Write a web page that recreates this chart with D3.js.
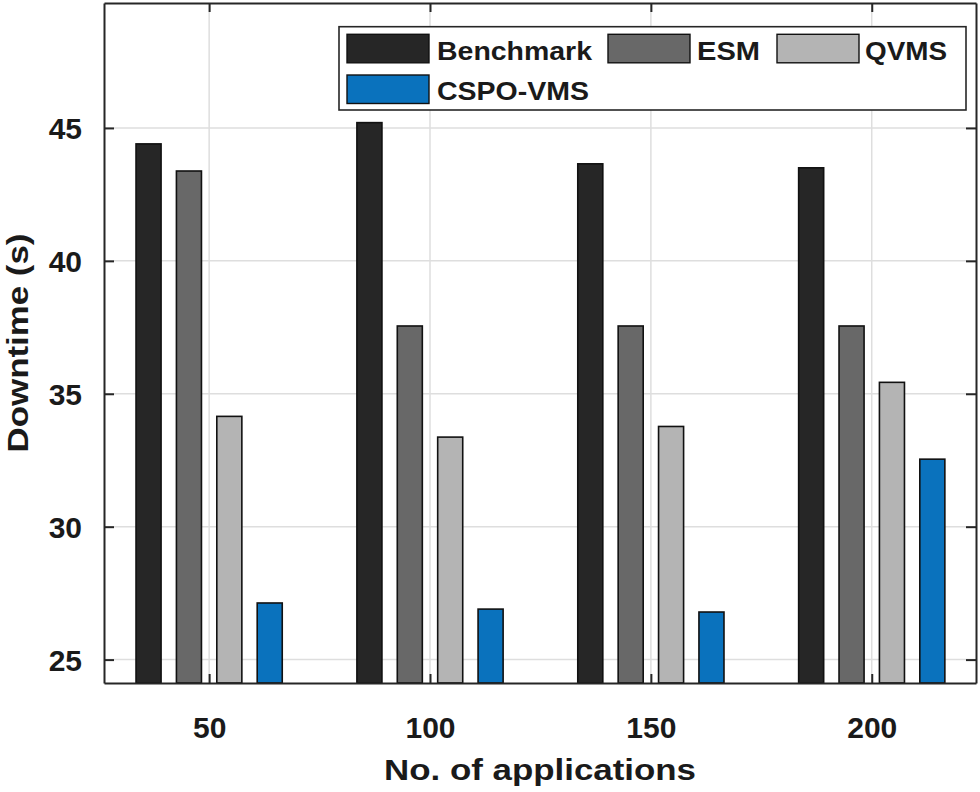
<!DOCTYPE html>
<html>
<head>
<meta charset="utf-8">
<script src="https://cdn.jsdelivr.net/npm/d3@7"></script>
<style>
  body { margin: 0; background: #fff; }
  text { font-family: "Liberation Sans", Arial, sans-serif; font-weight: bold; fill: #1a1a1a; }
</style>
</head>
<body>
<div id="chart"></div>
<script>
// data
var apps = [50, 100, 150, 200];
var seriesNames = ["Benchmark", "ESM", "QVMS", "CSPO-VMS"];
var benchmark = [44.4, 45.2, 43.65, 43.5];
var esm = [43.38, 37.55, 37.55, 37.55];
var qvms = [34.15, 33.37, 33.77, 35.43];
var cspo = [27.13, 26.9, 26.79, 32.54];
var yTicks = [25, 30, 35, 40, 45];

var colors = ["#262626", "#686868", "#b4b4b4", "#0a72bd"];
var values = [benchmark, esm, qvms, cspo];

// dimensions
var margin = { top: 3, right: 4, bottom: 109, left: 104 },
  width = 980 - margin.left - margin.right,
  height = 792 - margin.top - margin.bottom;

var svg = d3.select("#chart")
  .append("svg")
  .attr("width", 980)
  .attr("height", 792)
  .append("g")
  .attr("transform", "translate(" + margin.left + "," + margin.top + ")");

var x = d3.scaleLinear().domain([26.2, 223.6]).range([0, width]);
var y = d3.scaleLinear().domain([24.12, 49.7]).range([height, 0]);

var step = x(100) - x(50);
var groupW = step * 0.662;
var xSub = d3.scaleBand()
  .domain(seriesNames)
  .range([-groupW / 2, groupW / 2])
  .paddingInner(0.38);

// grid lines
svg.append("g")
  .selectAll("line")
  .data(yTicks)
  .enter()
  .append("line")
  .attr("x1", 0).attr("x2", width)
  .attr("y1", function (d) { return y(d); })
  .attr("y2", function (d) { return y(d); })
  .attr("stroke", "#dedede").attr("stroke-width", 1.5);

svg.append("g")
  .selectAll("line")
  .data(apps)
  .enter()
  .append("line")
  .attr("y1", 0).attr("y2", height)
  .attr("x1", function (d) { return x(d); })
  .attr("x2", function (d) { return x(d); })
  .attr("stroke", "#dedede").attr("stroke-width", 1.5);

// bars
var rows = [];
apps.forEach(function (a, i) {
  seriesNames.forEach(function (s, j) {
    rows.push({ app: a, series: s, value: values[j][i], color: colors[j] });
  });
});

svg.append("g")
  .selectAll("rect")
  .data(rows)
  .enter()
  .append("rect")
  .attr("x", function (d) { return x(d.app) + xSub(d.series); })
  .attr("width", xSub.bandwidth())
  .attr("y", function (d) { return y(d.value); })
  .attr("height", function (d) { return height - y(d.value); })
  .attr("fill", function (d) { return d.color; })
  .attr("stroke", "#111")
  .attr("stroke-width", 1.6);

// axes (MATLAB box style, ticks inside)
var axL = svg.append("g")
  .call(d3.axisLeft(y).tickValues(yTicks).tickSizeInner(-10).tickSizeOuter(0).tickPadding(22));
var axR = svg.append("g")
  .attr("transform", "translate(" + width + ",0)")
  .call(d3.axisRight(y).tickValues(yTicks).tickSizeInner(-10).tickSizeOuter(0).tickFormat(""));
var axB = svg.append("g")
  .attr("transform", "translate(0," + height + ")")
  .call(d3.axisBottom(x).tickValues(apps).tickSizeInner(-9).tickSizeOuter(0).tickPadding(34));
var axT = svg.append("g")
  .call(d3.axisTop(x).tickValues(apps).tickSizeInner(-9).tickSizeOuter(0).tickFormat(""));

[axL, axR, axB, axT].forEach(function (a) {
  a.select(".domain").attr("stroke", "#262626").attr("stroke-width", 2);
  a.selectAll(".tick line").attr("stroke", "#262626").attr("stroke-width", 2);
  a.selectAll(".tick text")
    .style("font-family", "'Liberation Sans', Arial, sans-serif")
    .style("font-weight", "bold")
    .style("font-size", "30px")
    .attr("fill", "#1a1a1a");
});
axL.selectAll(".tick text").attr("dy", "0.36em");

// axis labels
svg.append("text")
  .attr("text-anchor", "middle")
  .attr("x", width / 2)
  .attr("y", height + 97)
  .attr("textLength", 312)
  .attr("lengthAdjust", "spacingAndGlyphs")
  .style("font-size", "29.5px")
  .text("No. of applications");

svg.append("text")
  .attr("text-anchor", "middle")
  .attr("transform", "translate(" + (-76) + "," + (height / 2) + ") rotate(-90)")
  .attr("textLength", 219)
  .attr("lengthAdjust", "spacingAndGlyphs")
  .style("font-size", "30px")
  .text("Downtime (s)");

// legend
var legend = svg.append("g").attr("transform", "translate(" + (339 - margin.left) + "," + (26.7 - margin.top) + ")");
legend.append("rect")
  .attr("x", 0).attr("y", 0)
  .attr("width", 627).attr("height", 83.3)
  .attr("fill", "#fff")
  .attr("stroke", "#262626")
  .attr("stroke-width", 1.6);

var legPos = [
  { sx: 8, sy: 7.6, tx: 98, ty: 33.5, tw: 155 },
  { sx: 269, sy: 7.6, tx: 358, ty: 33.5, tw: 63 },
  { sx: 438, sy: 7.6, tx: 526, ty: 33.5, tw: 82 },
  { sx: 8, sy: 48.3, tx: 98, ty: 73.5, tw: 152 }
];

seriesNames.forEach(function (s, j) {
  var p = legPos[j];
  legend.append("rect")
    .attr("x", p.sx).attr("y", p.sy)
    .attr("width", 82).attr("height", 28.5)
    .attr("fill", colors[j])
    .attr("stroke", "#111")
    .attr("stroke-width", 1.4);
  legend.append("text")
    .attr("x", p.tx).attr("y", p.ty)
    .attr("textLength", p.tw)
    .attr("lengthAdjust", "spacingAndGlyphs")
    .style("font-size", "26.5px")
    .text(s);
});
</script>
</body>
</html>
